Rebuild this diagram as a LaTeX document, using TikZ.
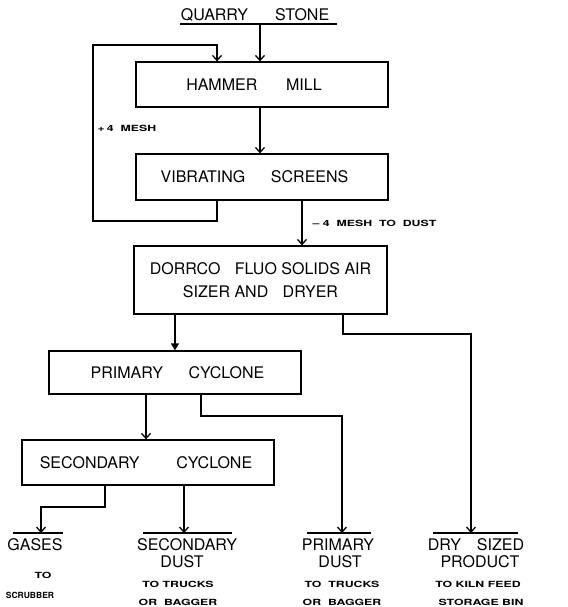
\documentclass[tikz,border=0pt]{standalone}
\usepackage{fontspec}
\setmainfont{TeX Gyre Heros}
\usetikzlibrary{arrows.meta,positioning}
\newcommand\sml[2][1.45]{\scalebox{#1}[1]{\bfseries\fontsize{8.5}{9}\selectfont #2}}
\newcommand\gap{\hspace{0.9em}}
\begin{document}
\begin{tikzpicture}[x=1pt,y=-1pt,
  line width=1.3pt,
  box/.style={draw,minimum width=252pt,inner sep=0pt,font=\fontsize{16}{23}\selectfont,align=center},
  lab/.style={inner sep=0pt,font=\fontsize{16}{18}\selectfont},
  arr/.style={-{Straight Barb[length=5pt,width=9pt,line width=1.3pt]}},
  arrf/.style={-{Triangle[length=7pt,width=8pt]}}]
\useasboundingbox (0,0) rectangle (567,607);
% boxes
\node[box,minimum height=45pt] (hm) at (262,84.5) {HAMMER\hspace{1.8em}MILL\hspace{16pt}};
\node[box,minimum height=46pt] (vs) at (262,177) {VIBRATING\hspace{1.6em}SCREENS\hspace{15pt}};
\node[box,minimum width=253pt,minimum height=68pt] (dr) at (260.5,280) {DORRCO\gap FLUO SOLIDS AIR\hspace{6pt}\\SIZER AND\gap DRYER\hspace{6pt}};
\node[box,minimum height=43pt] (pc) at (175,372.5) {\hspace{5pt}PRIMARY\hspace{1.6em}CYCLONE};
\node[box,minimum height=45pt] (sc) at (148,462.5) {SECONDARY\hspace{2.3em}CYCLONE\hspace{4pt}};
% top source
\node[lab] (qs) at (255,15) {QUARRY\hspace{1.7em}STONE};
\coordinate (qsL) at (180,24);
\coordinate (qsR) at (337,24);
\coordinate (qsA) at (260,24);
\draw (qsL) -- (qsR);
\draw[arr] (qsA) -- (qsA |- hm.north);
\draw[arr] (qsA |- hm.south) -- (qsA |- vs.north);
% feedback loop
\coordinate (fbx) at (217,0);
\coordinate (fbB) at (93,221);
\coordinate (fbT) at (93,45);
\draw[arr] (vs.south -| fbx) |- (fbB) -- (fbT) -| (hm.north -| fbx);
\node[inner sep=0pt,anchor=west] (p4) at (97,128) {\sml{+\,4\;\;MESH}};
% to dryer
\coordinate (x2) at (302,0);
\draw[arr] (vs.south -| x2) -- (dr.north -| x2);
\node[inner sep=0pt,anchor=west] (m4) at (312,223) {\sml{–\;4\;\;MESH\;\;TO\;\;DUST}};
% outputs bars
\coordinate (gL) at (13,533);   \coordinate (gR) at (63,533);
\coordinate (sL) at (143,533);  \coordinate (sR) at (232,533);
\coordinate (pL) at (307,533);  \coordinate (pR) at (371,533);
\coordinate (dL) at (433,533);  \coordinate (dR) at (518,533);
\draw (gL) -- (gR); \draw (sL) -- (sR); \draw (pL) -- (pR); \draw (dL) -- (dR);
% dryer to primary cyclone
\draw[arrf] (dr.south -| pc.north) -- (pc.north);
% dryer to dry sized product
\coordinate (x3) at (343,0);
\coordinate (k1) at (400,334);
\coordinate (dryT) at (471,533);
\draw[arr] (dr.south -| x3) -- (x3 |- k1) -| (dryT);
% primary cyclone to secondary cyclone
\coordinate (x4) at (146,0);
\draw[arr] (pc.south -| x4) -- (sc.north -| x4);
% primary cyclone to primary dust
\coordinate (x5) at (201,0);
\coordinate (k2) at (300,416);
\coordinate (pdT) at (342,533);
\draw[arr] (pc.south -| x5) -- (x5 |- k2) -| (pdT);
% secondary cyclone to gases
\coordinate (x6) at (105,0);
\coordinate (k3) at (80,507);
\coordinate (gT) at (41,533);
\draw[arr] (sc.south -| x6) -- (x6 |- k3) -| (gT);
% secondary cyclone to secondary dust
\coordinate (x7) at (184,0);
\draw[arr] (sc.south -| x7) -- (sL -| x7);
% output labels
\node[lab] (ga) at (35,545) {GASES};
\node[inner sep=0pt] (ga1) at (43,575) {\sml{TO}};
\node[inner sep=0pt] (ga2) at (30,595) {\sml[1.0]{SCRUBBER}};
\node[lab] (sd) at (187,545) {SECONDARY};
\node[lab] (sd2) at (182,562) {DUST};
\node[inner sep=0pt] (sd3) at (178,584) {\sml{TO TRUCKS}};
\node[inner sep=0pt] (sd4) at (178,602) {\sml{OR\;\;BAGGER}};
\node[lab] (pd) at (338,545) {PRIMARY};
\node[lab] (pd2) at (340,562) {DUST};
\node[inner sep=0pt] (pd3) at (342,584) {\sml{TO\;\;TRUCKS}};
\node[inner sep=0pt] (pd4) at (342,602) {\sml{OR\;\;BAGGER}};
\node[lab] (dp) at (476,545) {DRY\hspace{1em}SIZED};
\node[lab] (dp2) at (480,562) {PRODUCT};
\node[inner sep=0pt] (dp3) at (478,584) {\sml{TO KILN FEED}};
\node[inner sep=0pt] (dp4) at (481,602) {\sml{STORAGE BIN}};
\end{tikzpicture}
\end{document}
